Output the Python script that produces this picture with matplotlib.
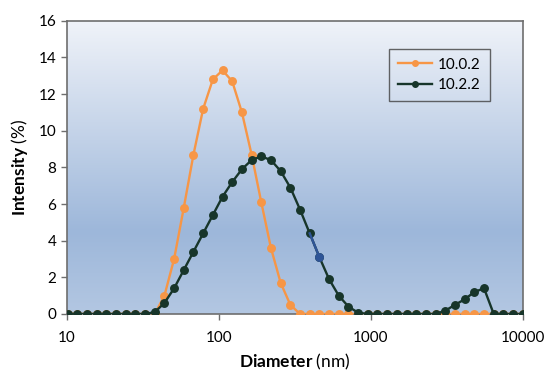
import matplotlib
matplotlib.use("Agg")
import matplotlib.pyplot as plt
import numpy as np
from matplotlib.colors import LinearSegmentedColormap
from matplotlib.ticker import FixedLocator, FixedFormatter, NullLocator

plt.rcParams['font.family'] = ['Lato', 'DejaVu Sans']
plt.rcParams['mathtext.fontset'] = 'custom'
plt.rcParams['mathtext.rm'] = 'Lato'
plt.rcParams['mathtext.bf'] = 'Lato:bold'

# size bins (nm)
diameter = [10.1, 11.7, 13.54, 15.69, 18.17, 21.04, 24.36, 28.21, 32.67, 37.84,
            43.82, 50.75, 58.77, 68.06, 78.82, 91.28, 105.7, 122.4, 141.8, 164.2,
            190.1, 220.2, 255.0, 295.3, 342.0, 396.1, 458.7, 531.2, 615.1, 712.4,
            825.0, 955.4, 1106, 1281, 1484, 1718, 1990, 2305, 2669, 3091,
            3580, 4145, 4801, 5560, 6439, 7456, 8635, 10000]

s_1002 = [0, 0, 0, 0, 0, 0, 0, 0, 0, 0,
          1.0, 3.0, 5.8, 8.7, 11.2, 12.8, 13.3, 12.7, 11.0, 8.7,
          6.1, 3.6, 1.7, 0.5, 0, 0, 0, 0, 0, 0,
          0, 0, 0, 0, 0, 0, 0, 0, 0, 0,
          0, 0, 0, 0, 0, 0, 0, 0]

s_1022 = [0, 0, 0, 0, 0, 0, 0, 0, 0, 0.1,
          0.6, 1.4, 2.4, 3.4, 4.4, 5.4, 6.4, 7.2, 7.9, 8.4,
          8.6, 8.4, 7.8, 6.9, 5.7, 4.4, 3.1, 1.9, 1.0, 0.4,
          0.07, 0, 0, 0, 0, 0, 0, 0, 0, 0.18,
          0.5, 0.8, 1.2, 1.4, 0, 0, 0, 0]

selected = 26  # highlighted point (blue) in 10.2.2

orange = '#F79646'
dark = '#17352A'
blue = '#2F5597'

fig = plt.figure(figsize=(5.44, 3.72), dpi=100)
ax = fig.add_axes([0.123, 0.156, 0.838, 0.788])

# gradient plot area
cmap = LinearSegmentedColormap.from_list(
    'bg', [(0, '#F0F3F9'), (0.72, '#9DB7DA'), (1.0, '#B3C7E2')])
grad = np.linspace(0, 1, 256).reshape(-1, 1)
ax.imshow(grad, cmap=cmap, aspect='auto', extent=[0, 1, 0, 1],
          transform=ax.transAxes, zorder=0)

ax.plot(diameter, s_1002, '-o', color=orange, lw=1.7, ms=5.4, label='10.0.2', zorder=3)
ax.plot(diameter, s_1022, '-o', color=dark, lw=1.7, ms=5.4, label='10.2.2', zorder=4)
ax.plot(diameter[selected - 1:selected + 1], s_1022[selected - 1:selected + 1],
        '-', color=blue, lw=1.7, zorder=5)
ax.plot([diameter[selected]], [s_1022[selected]], 'o', color=blue, ms=5.4, zorder=6)

ax.set_xscale('log')
ax.set_xlim(10, 10000)
ax.set_ylim(0, 16)
ax.xaxis.set_major_locator(FixedLocator([10, 100, 1000, 10000]))
ax.xaxis.set_major_formatter(FixedFormatter(['10', '100', '1000', '10000']))
ax.xaxis.set_minor_locator(NullLocator())
ax.set_yticks(range(0, 17, 2))

for sp in ax.spines.values():
    sp.set_color('#6E6E6E')
    sp.set_linewidth(1.2)
ax.tick_params(colors='#6E6E6E', labelcolor='black', labelsize=11, length=4, width=1)
ax.tick_params(axis='x', pad=8)

ax.set_xlabel(r'$\mathbf{Diameter}$ (nm)', fontsize=12.5, labelpad=5)
ax.set_ylabel(r'$\mathbf{Intensity}$ (%)', fontsize=12.5, labelpad=6)

leg = ax.legend(loc='upper right', bbox_to_anchor=(0.928, 0.905), borderaxespad=0,
                fontsize=11, frameon=True, fancybox=False, handlelength=2.2,
                handletextpad=0.4, borderpad=0.6, labelspacing=0.4)
leg.get_frame().set_edgecolor('#404040')
leg.get_frame().set_facecolor('none')
leg.get_frame().set_linewidth(1)
for h in leg.legend_handles:
    h.set_markersize(4)

fig.savefig('out.png', dpi=100)
